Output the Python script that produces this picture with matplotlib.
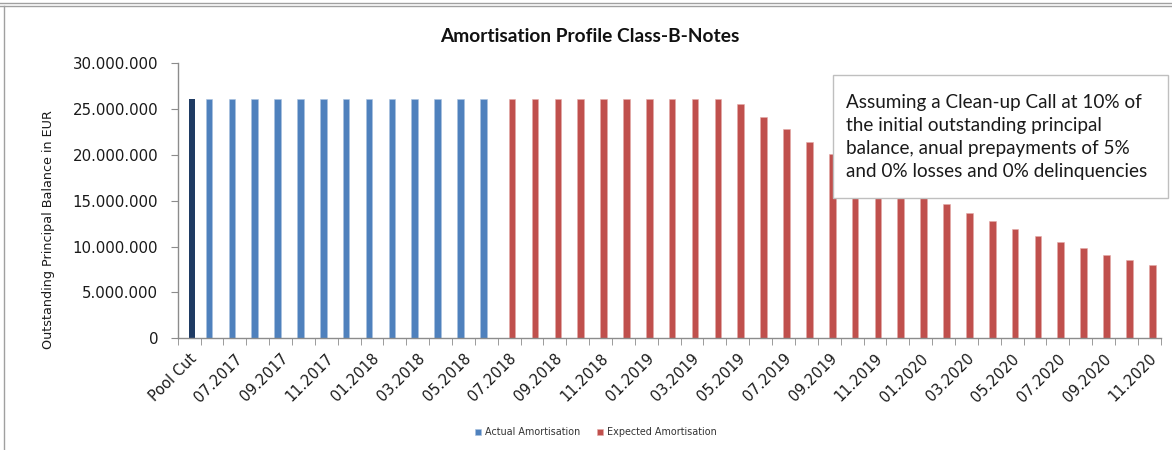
import numpy as np
import matplotlib
matplotlib.use("Agg")
import matplotlib.pyplot as plt
import matplotlib.transforms as mtrans
from matplotlib.patches import Rectangle
from matplotlib.lines import Line2D
from matplotlib.ticker import FuncFormatter, MultipleLocator

# ---------------- data ----------------
categories = ["Pool Cut",
              "06.2017", "07.2017", "08.2017", "09.2017", "10.2017", "11.2017", "12.2017",
              "01.2018", "02.2018", "03.2018", "04.2018", "05.2018", "06.2018", "07.2018",
              "08.2018", "09.2018", "10.2018", "11.2018", "12.2018", "01.2019", "02.2019",
              "03.2019", "04.2019", "05.2019", "06.2019", "07.2019", "08.2019", "09.2019",
              "10.2019", "11.2019", "12.2019", "01.2020", "02.2020", "03.2020", "04.2020",
              "05.2020", "06.2020", "07.2020", "08.2020", "09.2020", "10.2020", "11.2020"]

pool_cut_balance = 26_100_000

# Actual amortisation: 06.2017 - 06.2018
actual_balance = [26_100_000] * 13

# Expected amortisation: 07.2018 - 11.2020
expected_balance = [26_100_000, 26_100_000, 26_100_000, 26_100_000, 26_100_000,
                    26_100_000, 26_100_000, 26_100_000, 26_100_000, 26_100_000,
                    25_530_000, 24_110_000, 22_800_000, 21_420_000, 20_140_000,
                    18_900_000, 17_750_000, 16_700_000, 15_600_000, 14_620_000,
                    13_640_000, 12_760_000, 11_890_000, 11_190_000, 10_510_000,
                    9_820_000, 9_050_000, 8_510_000, 7_960_000]

series_names = ["Actual Amortisation", "Expected Amortisation"]
box_text = ("Assuming a Clean-up Call at 10% of\n"
            "the initial outstanding principal\n"
            "balance, anual prepayments of 5%\n"
            "and 0% losses and 0% delinquencies")
title = "Amortisation Profile Class-B-Notes"
ylabel = "Outstanding Principal Balance in EUR"

# ---------------- layout ----------------
W, H = 1172, 450
fig = plt.figure(figsize=(W / 100, H / 100), dpi=100)
fig.patch.set_facecolor("white")

ax = fig.add_axes([177.7 / W, 1 - 338.3 / H, 983 / W, 275 / H])

n = len(categories)
x = np.arange(n)
n_act = len(actual_balance)
act = np.full(n, np.nan)
act[1:1 + n_act] = actual_balance
exp_ = np.full(n, np.nan)
exp_[1 + n_act:1 + n_act + len(expected_balance)] = expected_balance

blue = "#4F81BD"
red = "#C0504D"
navy = "#1F3B63"
bw = 0.29
off = 0.13

ax.bar(x - off, act, width=bw, color=blue, edgecolor="#A9C1E0", linewidth=0.4,
       label=series_names[0])
ax.bar(x + off, exp_, width=bw, color=red, edgecolor="#E3A9A8", linewidth=0.4,
       label=series_names[1])
ax.bar([x[0] + off], [pool_cut_balance], width=bw * 0.85, color=navy, linewidth=0)

ax.set_xlim(-0.5, n - 0.5)
ax.set_ylim(0, 30_000_000)
ax.yaxis.set_major_locator(MultipleLocator(5_000_000))
ax.yaxis.set_major_formatter(FuncFormatter(lambda v, p: f"{int(v):,}".replace(",", ".")))

for s in ["top", "right"]:
    ax.spines[s].set_visible(False)
for s in ["left", "bottom"]:
    ax.spines[s].set_color("#8C8C8C")
    ax.spines[s].set_linewidth(1.0)

ax.tick_params(axis="y", direction="out", length=5, color="#8C8C8C",
               labelsize=10.8, pad=9, labelcolor="#1a1a1a")

# category boundary tick marks
ax.set_xticks(np.arange(-0.5, n, 1.0), minor=True)
ax.tick_params(axis="x", which="minor", direction="out", length=5, color="#8C8C8C")
# labels on every other category
lab_idx = x[::2]
ax.set_xticks(lab_idx)
ax.set_xticklabels([categories[i] for i in lab_idx])
ax.tick_params(axis="x", which="major", length=0, labelsize=10.5, pad=13,
               labelcolor="#1a1a1a")
shift = mtrans.ScaledTranslation(0.05, 0, fig.dpi_scale_trans)
for t in ax.get_xticklabels():
    t.set_rotation(45)
    t.set_ha("right")
    t.set_va("center")
    t.set_rotation_mode("anchor")
    t.set_fontfamily("DejaVu Sans")
    t.set_transform(t.get_transform() + shift)

# title & ylabel
fig.text(590 / W, 1 - 37 / H, title, ha="center", va="center",
         fontsize=13.8, fontweight="bold", family="Lato", color="#111111")
fig.text(49 / W, 1 - 230 / H, ylabel, ha="center", va="center", rotation=90,
         fontsize=9.2, family="DejaVu Sans", color="#1a1a1a")

# annotation box
bx0, bx1, by0, by1 = 833, 1168, 75, 198.3
rect = Rectangle((bx0 / W, 1 - by1 / H), (bx1 - bx0) / W, (by1 - by0) / H,
                 transform=fig.transFigure, facecolor="white", edgecolor="#BFBFBF",
                 linewidth=1.0, zorder=5)
fig.patches.append(rect)
fig.text(846 / W, 1 - 94 / H, box_text, ha="left", va="top", fontsize=13.6,
         family="Lato", color="#1a1a1a", linespacing=1.42, zorder=6)

# legend
leg = fig.legend(loc="center", bbox_to_anchor=(596 / W, 1 - 432 / H), ncol=2,
                 frameon=False, fontsize=6.9, handlelength=0.6, handleheight=0.6,
                 handletextpad=0.4, columnspacing=1.8)
for t in leg.get_texts():
    t.set_color("#333333")

# outer frame lines
for yy in (2.5, 6):
    fig.lines.append(Line2D([0, 1], [1 - yy / H, 1 - yy / H], transform=fig.transFigure,
                            color="#A0A0A0", linewidth=1.0))
fig.lines.append(Line2D([4 / W, 4 / W], [0, 1 - 6 / H], transform=fig.transFigure,
                        color="#A0A0A0", linewidth=1.0))

fig.savefig("out.png", dpi=100)
